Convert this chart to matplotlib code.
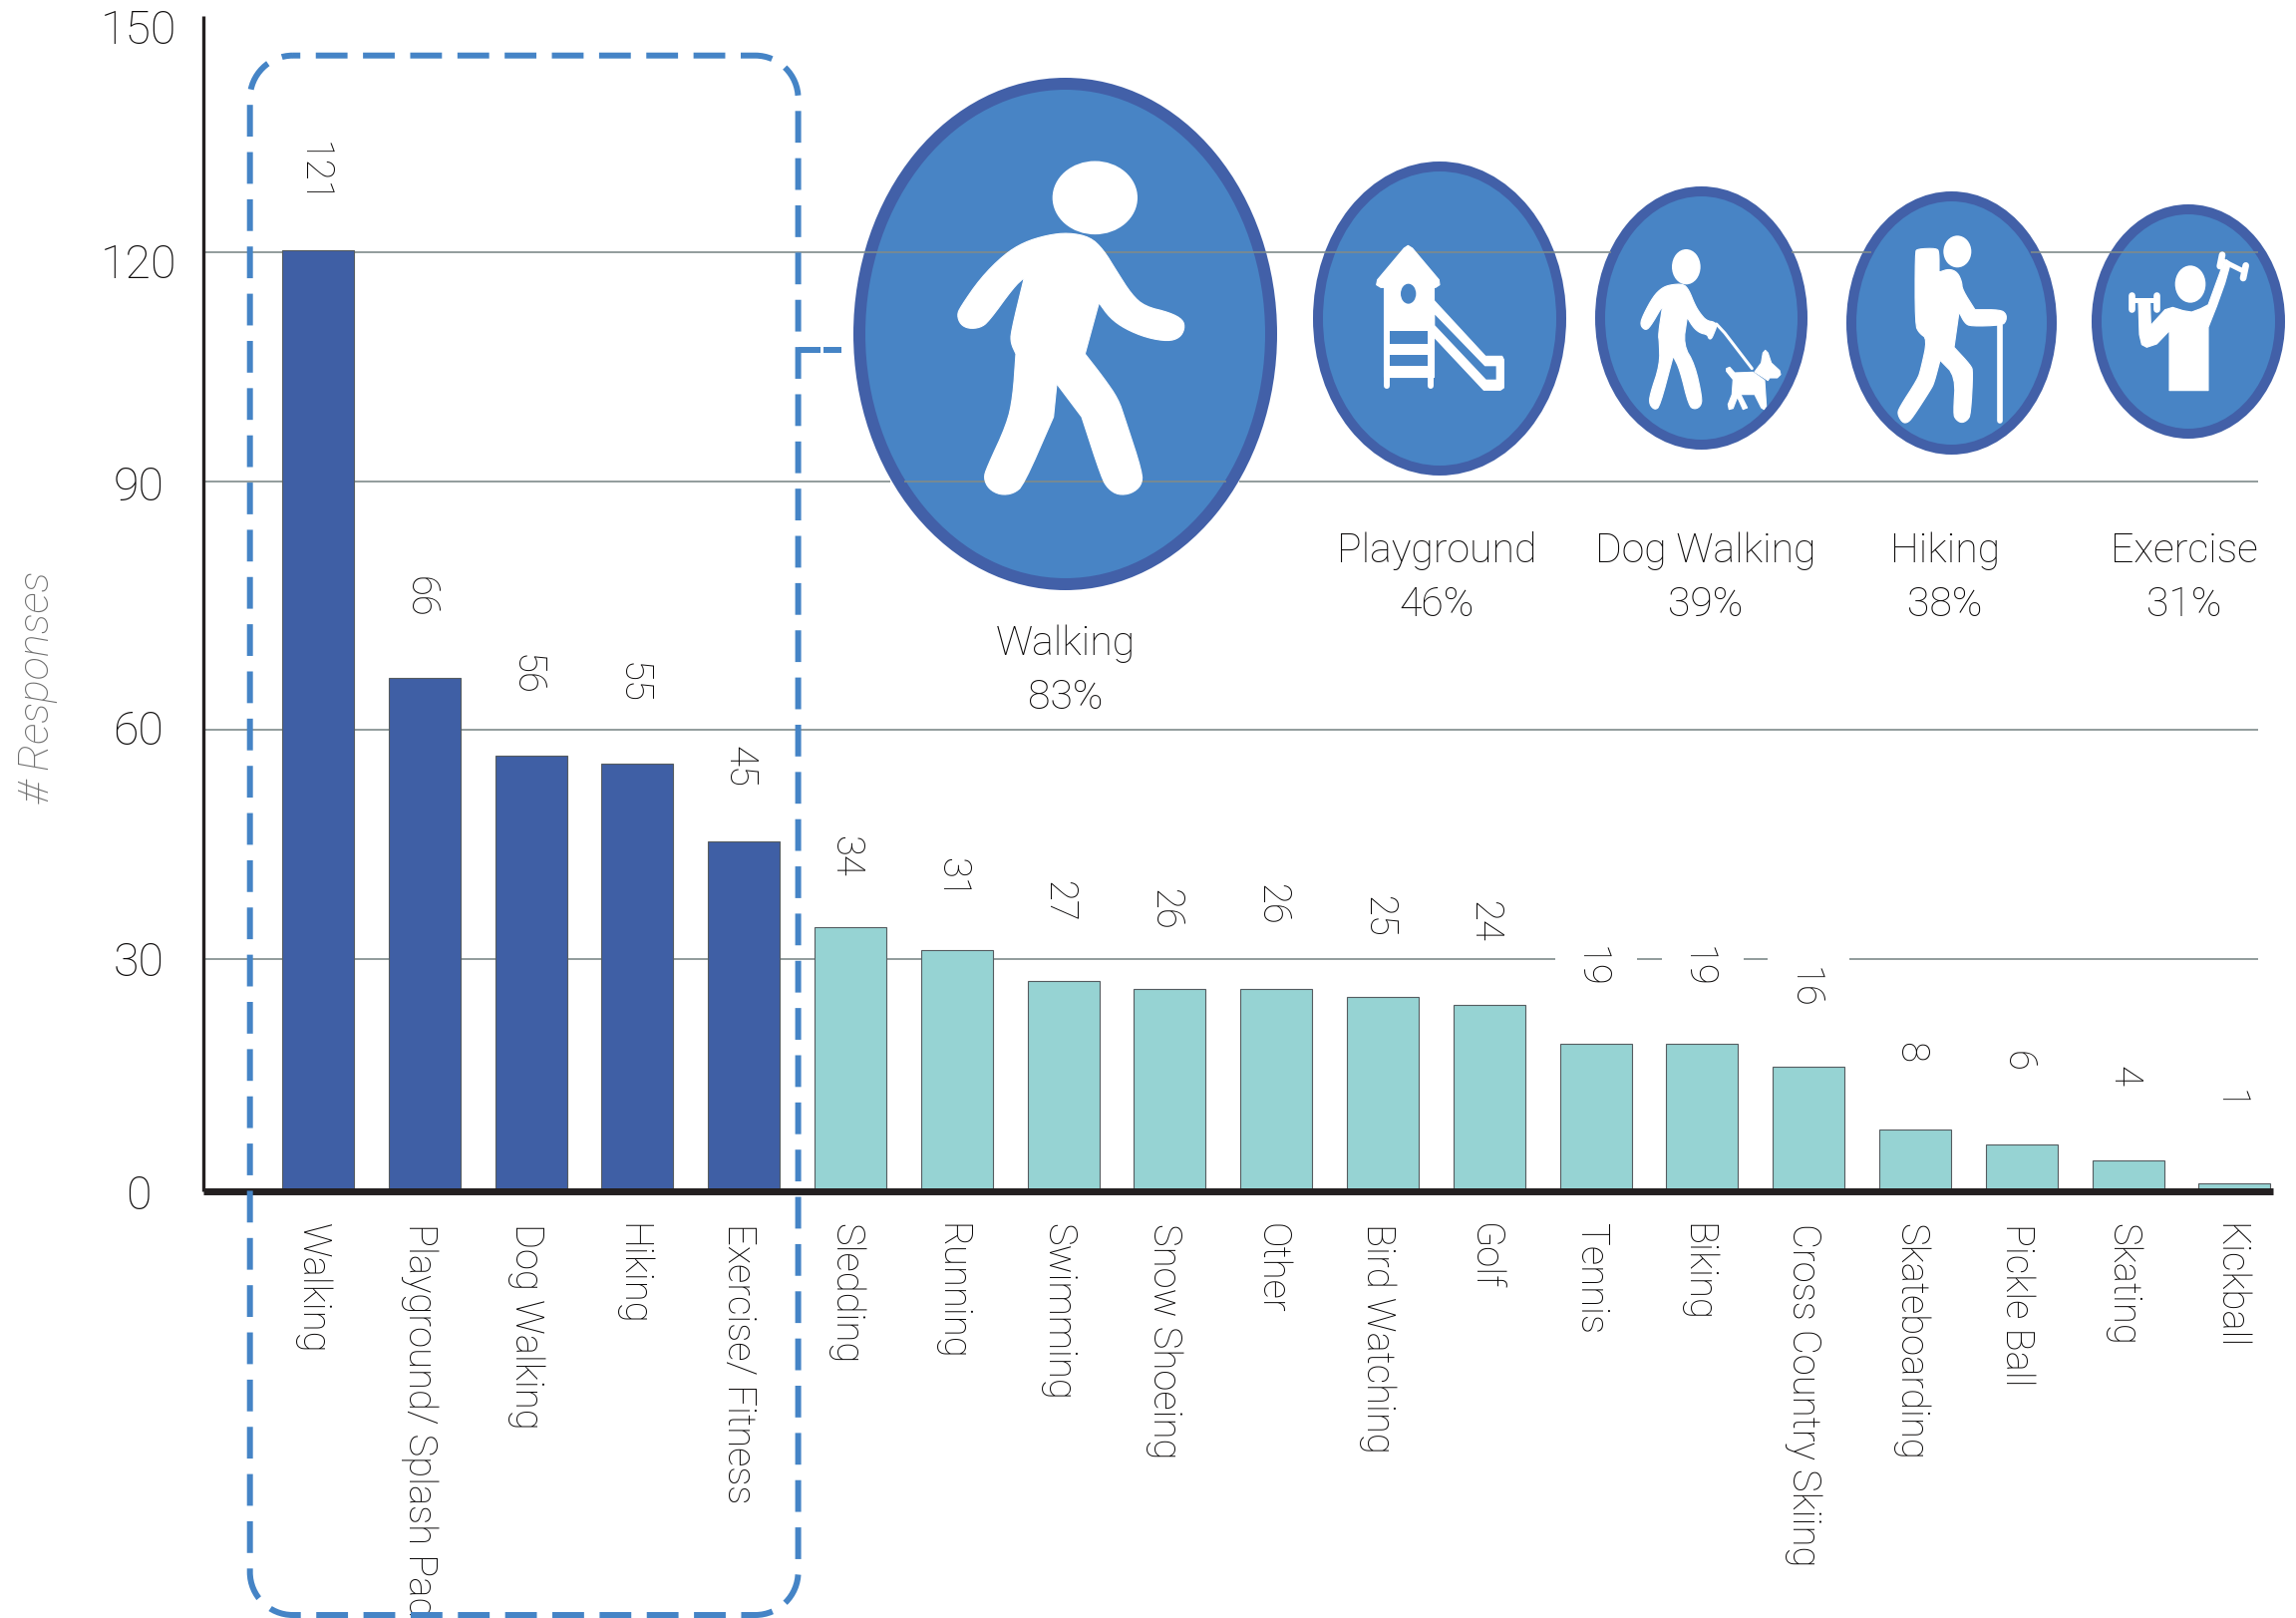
import matplotlib
matplotlib.use("Agg")
import matplotlib.pyplot as plt
from matplotlib.patches import Ellipse, Polygon, PathPatch
from matplotlib.path import Path
from matplotlib.transforms import Affine2D, blended_transform_factory

plt.rcParams['font.family'] = ['Roboto', 'Liberation Sans', 'DejaVu Sans']
plt.rcParams['font.weight'] = 'light'

# data
categories = ['Walking', 'Playground/ Splash Pad', 'Dog Walking', 'Hiking', 'Exercise/ Fitness',
              'Sledding', 'Running', 'Swimming', 'Snow Shoeing', 'Other', 'Bird Watching', 'Golf',
              'Tennis', 'Biking', 'Cross Country Skiing', 'Skateboarding', 'Pickle Ball', 'Skating',
              'Kickball']
responses = [121, 66, 56, 55, 45, 34, 31, 27, 26, 26, 25, 24, 19, 19, 16, 8, 6, 4, 1]
n_top = 5
tick_pos = [0, 30.1, 59.8, 91.2, 119.8, 150]
tick_labels = ['0', '30', '60', '90', '120', '150']
grid_values = [29.9, 59.4, 91.3, 120.8]
icon_names = ['Walking', 'Playground', 'Dog Walking', 'Hiking', 'Exercise']
icon_pct = ['83%', '46%', '39%', '38%', '31%']

DARK = '#231f20'
TEXT = '#0c0a0a'
BAR_TOP = '#3f5fa5'
BAR_REST = '#96d3d3'
RING = '#4260a8'
FILL = '#4884c5'
GRID = '#7f8b8b'
DASH = '#4584c6'

W, H = 2303, 1624
fig = plt.figure(figsize=(W / 100, H / 100), dpi=100)
# axes frame: spine at x=204, baseline y=1196, top y=17, right x=2280
ax = fig.add_axes([204 / W, (H - 1196) / H, (2280 - 204) / W, (1196 - 17) / H])
ax.set_facecolor('none')

# pixel coordinates of the figure, y down, for the icons and the box
px = Affine2D().scale(1, -1).translate(0, H)
pt = 0.72  # points per pixel

xs = list(range(len(responses)))
colors = [BAR_TOP] * n_top + [BAR_REST] * (len(responses) - n_top)
ax.bar(xs, responses, width=72 / 106.8, color=colors, edgecolor='#555c60', linewidth=0.8, zorder=2)

label_gap = [54, 56, 56, 56, 52, 49, 50, 55, 55, 58, 55, 57, 53, 53, 55, 53, 58, 58, 58]
for x, v, g in zip(xs, responses, label_gap):
    ax.annotate(str(v), (x, v), xytext=(-3.5, g * 1.0575), textcoords='offset points',
                rotation=-90, ha='center', va='center', fontsize=27.5, color=TEXT, zorder=6)

# grid lines, broken where the picture breaks them
grid_tr = blended_transform_factory(px, ax.transData)
grid_segments = {
    29.9: [(204, 1560), (1642, 1667), (1749, 1773), (1855, 2265)],
    59.4: [(204, 2265)],
    91.3: [(204, 893), (907, 1230), (1243, 2265)],
    120.8: [(204, 1616), (1797, 1877), (2037, 2265)],
}
for g in grid_values:
    for x0, x1 in grid_segments[g]:
        ax.plot([x0, x1], [g, g], color=GRID, lw=1.2, transform=grid_tr, zorder=1, solid_capstyle='butt')

ax.set_xlim((204 - 319) / 106.8, (2280 - 319) / 106.8)
ax.set_ylim(0, (1196 - 17) / 7.8)
for s in ['top', 'right']:
    ax.spines[s].set_visible(False)
ax.spines['left'].set_linewidth(2.4)
ax.spines['left'].set_color(DARK)
ax.spines['left'].set_capstyle('butt')
ax.spines['bottom'].set_linewidth(5)
ax.spines['bottom'].set_color(DARK)
ax.spines['bottom'].set_capstyle('butt')

ax.set_yticks(tick_pos)
ax.set_yticklabels(tick_labels, fontsize=33.5, color=TEXT, ha='center')
ax.tick_params(axis='y', length=0, pad=47)
ax.set_xticks([x - 0.05 for x in xs])
ax.set_xticklabels(categories, rotation=-90, fontsize=27.5, color=TEXT, va='top', ha='center')
ax.tick_params(axis='x', length=0, pad=22)

ax.text(38, 689, '# Responses', transform=px, rotation=90, style='italic', fontsize=31,
        color='#6e6e6e', ha='center', va='center', clip_on=False)

# circles behind the grid lines
circles = [(856, 1281, 79, 593, 12), (1317, 1571, 163, 478, 10), (1600, 1813, 188, 452, 10),
           (1852, 2063, 193, 457, 10), (2098, 2292, 206, 441, 10)]
for x0, x1, y0, y1, lw in circles:
    ax.add_patch(Ellipse(((x0 + x1) / 2, (y0 + y1) / 2), x1 - x0 - lw, y1 - y0 - lw, facecolor=FILL,
                         edgecolor=RING, linewidth=lw * pt, transform=px, clip_on=False, zorder=0.5))


def chaikin(points, rounds=2):
    # round off the corners of a traced outline
    for _ in range(rounds):
        out = []
        for i, (a, b) in enumerate(points):
            c, d = points[(i + 1) % len(points)]
            out.append((0.75 * a + 0.25 * c, 0.75 * b + 0.25 * d))
            out.append((0.25 * a + 0.75 * c, 0.25 * b + 0.75 * d))
        points = out
    return points


def shape(points, ox, oy, sx=3.0, sy=3.0, color='white', smooth=True):
    if smooth:
        points = chaikin(points)
    pts = [(ox + a / sx, oy + b / sy) for a, b in points]
    ax.add_patch(Polygon(pts, closed=True, facecolor=color, edgecolor=color, linewidth=0.8, joinstyle='round',
                         transform=px, clip_on=False, zorder=4))


def oval(cx, cy, a, b, ox, oy, sx=3.0, sy=3.0, color='white'):
    ax.add_patch(Ellipse((ox + cx / sx, oy + cy / sy), 2 * a / sx, 2 * b / sy, facecolor=color, edgecolor='none',
                         transform=px, clip_on=False, zorder=4.5))


def stick(points, width, ox, oy, color='white', cap='round'):
    ax.plot([ox + a / 3 for a, b in points], [oy + b / 3 for a, b in points], color=color,
            lw=width / 3 * pt, solid_capstyle=cap, transform=px, clip_on=False, zorder=4)


# walker
walker = [(755, 483), (820, 495), (860, 530), (900, 590), (945, 655), (985, 688), (1060, 705), (1100, 725),
          (1105, 750), (1090, 775), (1055, 785), (990, 775), (925, 750), (880, 720), (847, 678), (847, 678),
          (805, 820), (805, 820), (860, 885), (905, 945), (925, 1000), (978, 1150), (975, 1185), (945, 1208),
          (905, 1212), (875, 1195), (855, 1165), (795, 995), (795, 995), (720, 903), (720, 903), (710, 995),
          (710, 995), (620, 1185), (590, 1208), (550, 1212), (515, 1195), (500, 1165), (510, 1135), (570, 1015),
          (588, 940), (597, 820), (597, 820), (582, 790), (582, 760), (622, 608), (622, 608), (590, 635), (515, 730),
          (490, 747), (455, 750), (430, 738), (420, 712), (430, 690), (490, 610), (560, 545), (620, 510), (690, 490)]
shape(walker, 820, 60, 3.0, 2.77)
oval(835, 386, 128, 102, 820, 60, 3.0, 2.77)

# playground
ox, oy = 1360, 230
shape([(157, 52), (170, 60), (250, 155), (252, 170), (240, 178), (75, 178), (62, 170), (65, 155), (145, 60)], ox, oy,
      smooth=False)
shape([(83, 175), (233, 175), (233, 447), (83, 447)], ox, oy, smooth=False)
stick([(92, 447), (92, 475)], 18, ox, oy)
stick([(224, 447), (224, 475)], 18, ox, oy)
shape([(233, 215), (390, 385), (440, 385), (445, 395), (445, 480), (435, 487), (385, 487), (233, 325), (233, 260)],
      ox, oy, smooth=False)
for hole in ([(102, 308), (215, 308), (215, 348), (102, 348)], [(102, 380), (215, 380), (215, 415), (102, 415)],
             [(238, 260), (238, 292), (392, 455), (422, 455), (422, 415), (388, 415)]):
    ax.add_patch(Polygon([(ox + a / 3, oy + b / 3) for a, b in hole], facecolor=FILL, edgecolor='none',
                         transform=px, clip_on=False, zorder=4.5))
oval(158, 197, 23, 30, ox, oy, color=FILL)

# dog walker
ox, oy = 1620, 240
oval(214, 86, 43, 53, ox, oy)
shape([(165, 140), (205, 137), (222, 155), (240, 200), (255, 225), (275, 248), (300, 252), (306, 265), (298, 285),
       (290, 303), (282, 303), (278, 290), (255, 285), (235, 268), (217, 238), (217, 238), (205, 320), (240, 380),
       (262, 480), (258, 505), (240, 515), (222, 505), (195, 395), (175, 355), (175, 355), (135, 505), (120, 517),
       (103, 500), (105, 470), (135, 380), (133, 310), (130, 290), (143, 203), (143, 203), (105, 268), (90, 277),
       (75, 260), (85, 230), (115, 175), (140, 150)], ox, oy)
stick([(305, 258), (330, 285), (412, 392)], 9, ox, oy)
shape([(345, 388), (360, 405), (415, 403), (450, 428), (455, 505), (448, 515), (440, 510), (420, 470), (378, 470),
       (398, 510), (385, 515), (368, 478), (355, 512), (343, 515), (340, 500), (352, 470), (355, 425), (335, 400),
       (335, 392)], ox, oy, smooth=False)
shape([(452, 337), (460, 345), (470, 375), (495, 398), (498, 410), (488, 420), (465, 420), (460, 428), (420, 402),
       (440, 375), (445, 345)], ox, oy, smooth=False)

# hiker
ox, oy = 1880, 230
oval(250, 70, 42, 48, ox, oy)
shape([(130, 62), (188, 60), (195, 72), (195, 132), (195, 132), (225, 122), (250, 132), (263, 160), (265, 185),
       (303, 245), (303, 245), (380, 245), (397, 258), (397, 278), (385, 292), (290, 295), (272, 285), (255, 252),
       (255, 252), (240, 358), (240, 358), (290, 412), (297, 430), (290, 560), (280, 578), (262, 586), (245, 575),
       (238, 558), (245, 445), (198, 397), (198, 397), (180, 465), (170, 485), (115, 570), (100, 585), (85, 585),
       (70, 560), (75, 540), (130, 455), (140, 425), (160, 333), (135, 315), (123, 290), (123, 72)], ox, oy)
stick([(377, 290), (377, 578)], 17, ox, oy)

# exercise
ox, oy = 2120, 240
oval(231, 138, 46, 56, ox, oy)
shape([(168, 458), (285, 458), (285, 268), (310, 205), (335, 135), (352, 75), (340, 65), (325, 90), (285, 200),
       (262, 212), (235, 222), (210, 218), (178, 208), (155, 215), (112, 262), (110, 195), (75, 195), (78, 290),
       (85, 320), (100, 328), (130, 318), (168, 278)], ox, oy, smooth=False)
stick([(53, 172), (53, 214)], 20, ox, oy)
stick([(128, 172), (128, 214)], 20, ox, oy)
stick([(53, 185), (128, 185)], 15, ox, oy)
stick([(327, 50), (320, 84)], 20, ox, oy)
stick([(398, 82), (390, 120)], 20, ox, oy)
stick([(323, 65), (393, 100)], 15, ox, oy)

# icon captions
icon_x = [1069, 1441, 1711, 1951, 2191]
icon_y = [646, 553, 553, 553, 553]
for x, y, name, pct in zip(icon_x, icon_y, icon_names, icon_pct):
    ax.text(x, y, name, transform=px, fontsize=29.5, color=TEXT, ha='center', va='center', clip_on=False, zorder=6)
    ax.text(x, y + 54, pct, transform=px, fontsize=29.5, color=TEXT, ha='center', va='center', clip_on=False, zorder=6)

# dashed box round the top five
L, T, R, B, r = 250.7, 56.7, 800.6, 1621, 43
k = 0.45 * r
verts = [(L + r, T), (R - r, T), (R - k, T), (R, T + k), (R, T + r), (R, B - r), (R, B - k), (R - k, B), (R - r, B),
         (L + r, B), (L + k, B), (L, B - k), (L, B - r), (L, T + r), (L, T + k), (L + k, T), (L + r, T)]
codes = [Path.MOVETO, Path.LINETO, Path.CURVE4, Path.CURVE4, Path.CURVE4, Path.LINETO, Path.CURVE4, Path.CURVE4,
         Path.CURVE4, Path.LINETO, Path.CURVE4, Path.CURVE4, Path.CURVE4, Path.LINETO, Path.CURVE4, Path.CURVE4,
         Path.CURVE4]
ax.add_patch(PathPatch(Path(verts, codes), facecolor='none', edgecolor=DASH, linewidth=4.3,
                       linestyle=(12, (5.33, 2.6)), capstyle='butt', transform=px, clip_on=False, zorder=5))
# stub towards the walking circle
ax.plot([801, 823], [352, 352], color=DASH, lw=4.3, transform=px, clip_on=False, solid_capstyle='butt', zorder=5)
ax.plot([826, 844], [352, 352], color=DASH, lw=4.3, transform=px, clip_on=False, solid_capstyle='butt', zorder=5)

fig.savefig('out.png', dpi=100)
